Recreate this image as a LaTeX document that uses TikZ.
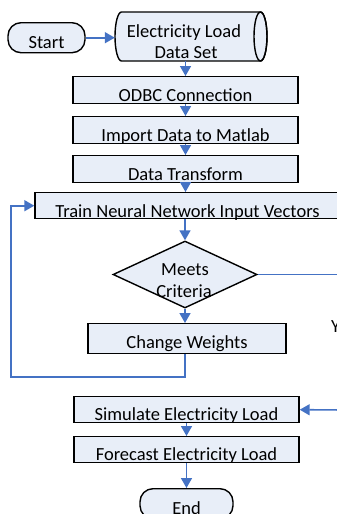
\documentclass[tikz,border=0pt]{standalone}
\usepackage{fontspec}
\setmainfont{Carlito}
\usetikzlibrary{shapes.geometric,arrows.meta}
\definecolor{boxfill}{HTML}{E8EEF8}
\definecolor{flow}{HTML}{4472C4}
\tikzset{
  txt/.style={font=\fontsize{18.5}{22}\selectfont},
  box/.style={draw=black, line width=1.4pt, fill=boxfill, rectangle,
    inner xsep=0pt, inner ysep=0pt, text height=25pt, text depth=2pt,
    minimum height=27pt, anchor=north, txt},
  term/.style={box, rounded corners=13pt, text height=26pt, text depth=4pt, minimum height=30pt},
  flowarrow/.style={draw=flow, line width=1.6pt, -{Triangle[length=10pt,width=11pt]}},
  flowline/.style={draw=flow, line width=1pt},
  words/.style={txt, inner sep=0pt, anchor=base}
}
\begin{document}
\begin{tikzpicture}[x=1pt, y=-1pt]
\useasboundingbox (0,0) rectangle (337,514);
\clip (0,0) rectangle (337,514);

% start terminal
\node[term, minimum width=77pt] (start) at (46.5,22) {Start};

% data set drawn as a lying cylinder
\path[draw=black, line width=1.4pt, fill=boxfill]
  (260.5,12) -- (121.5,12) arc[start angle=90, end angle=270, x radius=6.5pt, y radius=24.5pt]
  -- (260.5,61) arc[start angle=-90, end angle=90, x radius=6.5pt, y radius=24.5pt] -- cycle;
\draw[line width=1.4pt] (260.5,36.5) ellipse[x radius=6.5pt, y radius=24.5pt];
\node[minimum width=152pt, minimum height=49pt, inner sep=0pt] (data) at (191,36.5) {};
\node[words] (data1) at (184,37) {Electricity Load};
\node[words] (data2) at (186,58) {Data Set};

% processing steps
\node[box, minimum width=225pt] (odbc) at (185.5,76) {ODBC Connection};
\node[box, minimum width=225pt] (import) at (185.5,116) {Import Data to Matlab};
\node[box, minimum width=225pt] (transform) at (185.5,155) {Data Transform};
\node[box, minimum width=305pt, text height=25pt, text depth=1pt, minimum height=26pt] (train) at (187.5,192) {Train Neural Network Input Vectors};

% decision
\node[diamond, draw=black, line width=1.4pt, fill=boxfill, minimum width=144pt,
  minimum height=67pt, inner sep=0pt] (crit) at (185,274.5) {};
\node[words] (crit1) at (185,275) {Meets};
\node[words] (crit2) at (184,297) {Criteria};

\node[box, minimum width=198pt, text height=25pt, text depth=5pt, minimum height=30pt] (weights) at (187,323) {Change Weights};

\node[words, anchor=base west] (yes) at (331,332) {Y};

\node[box, minimum width=225pt, text height=24pt, text depth=2pt, minimum height=26pt] (simulate) at (186.5,396) {Simulate Electricity Load};
\node[box, minimum width=225pt, text height=24pt, text depth=2pt, minimum height=26pt] (forecast) at (186.5,436) {Forecast Electricity Load};

% end terminal
\node[term, minimum width=93pt] (end) at (186.5,488) {End};

% connectors
\coordinate (loopcorner) at (11,377);
\coordinate (critout) at (345,274.5);
\coordinate (simin) at (345,410);

\draw[flowarrow] (start.east) -- (data.west |- start.east);
\draw[flowarrow] (data.south -| odbc.north) -- (odbc.north);
\draw[flowarrow] (odbc.south) -- (import.north);
\draw[flowarrow] (import.south) -- (transform.north);
\draw[flowarrow] (transform.south) -- (transform.south |- train.north);
\draw[flowarrow] (train.south -| crit.north) -- (crit.north);
\draw[flowarrow] (crit.south) -- (crit.south |- weights.north);
\draw[flowarrow] (crit.south |- weights.south) |- (loopcorner) |- (train.west);
\draw[flowline] (crit.east) -- (critout);
\draw[flowarrow] (simin) -- (simulate.east);
\draw[flowarrow] (simulate.south) -- (forecast.north);
\draw[flowarrow] (forecast.south) -- (end.north);
\end{tikzpicture}
\end{document}
